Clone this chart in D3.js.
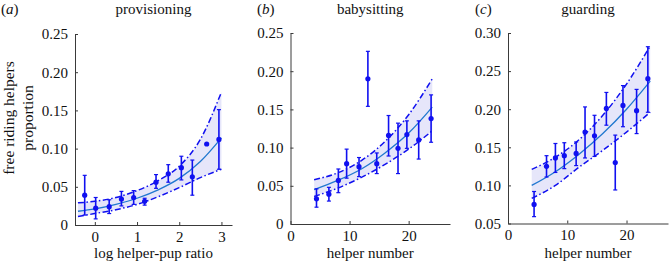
<!DOCTYPE html>
<html>
<head>
<meta charset="utf-8">
<script src="https://cdn.jsdelivr.net/npm/d3@7"></script>
<style>
  body { margin: 0; background: #ffffff; }
  text { font-family: 'Liberation Serif', 'DejaVu Serif', serif; fill: #111111; }
</style>
</head>
<body>
<svg id="chart" width="669" height="266"></svg>
<script>
// panel (a) provisioning: points with error bars
const provX = [-0.24, 0.02, 0.34, 0.63, 0.92, 1.18, 1.45, 1.74, 2.05, 2.31, 2.65, 2.94]
const provY = [0.039, 0.022, 0.024, 0.034, 0.036, 0.031, 0.056, 0.067, 0.075, 0.063, 0.106, 0.112]
const provLo = [0.013, 0.008, 0.015, 0.025, 0.027, 0.026, 0.048, 0.056, 0.059, 0.039, null, 0.073]
const provHi = [0.065, 0.036, 0.033, 0.044, 0.045, 0.035, 0.066, 0.079, 0.090, 0.085, null, 0.151]
// panel (a) fitted curve and confidence band
const provFitX = [-0.4, 0, 0.5, 1, 1.5, 2, 2.5, 3]
const provFit = [0.018, 0.021, 0.027, 0.035, 0.046, 0.061, 0.083, 0.114]
const provFitLo = [0.011, 0.015, 0.020, 0.027, 0.037, 0.049, 0.062, 0.073]
const provFitHi = [0.029, 0.031, 0.036, 0.045, 0.058, 0.077, 0.112, 0.174]

// panel (b) babysitting
const babyX = [4.4, 6.5, 8.1, 9.5, 11.6, 13.1, 14.6, 16.6, 18.2, 19.7, 21.7, 23.8]
const babyY = [0.033, 0.039, 0.057, 0.079, 0.075, 0.190, 0.079, 0.116, 0.099, 0.117, 0.110, 0.138]
const babyLo = [0.022, 0.030, 0.041, 0.060, 0.062, 0.154, 0.066, 0.089, 0.066, 0.099, 0.085, 0.107]
const babyHi = [0.046, 0.048, 0.072, 0.098, 0.087, 0.226, 0.093, 0.142, 0.132, 0.135, 0.135, 0.169]
const babyFitX = [4, 8, 12, 16, 20, 24]
const babyFit = [0.045, 0.057, 0.072, 0.093, 0.119, 0.153]
const babyFitLo = [0.036, 0.047, 0.061, 0.078, 0.098, 0.122]
const babyFitHi = [0.058, 0.067, 0.083, 0.108, 0.143, 0.190]

// panel (c) guarding
const guardX = [4.4, 6.5, 8.0, 9.5, 11.5, 13.0, 14.6, 16.6, 18.1, 19.4, 21.7, 23.6]
const guardY = [0.075, 0.125, 0.136, 0.139, 0.142, 0.170, 0.165, 0.201, 0.130, 0.205, 0.198, 0.240]
const guardLo = [0.059, 0.111, 0.117, 0.122, 0.126, 0.136, 0.138, 0.179, 0.094, 0.177, 0.168, 0.196]
const guardHi = [0.092, 0.139, 0.155, 0.156, 0.157, 0.203, 0.192, 0.222, 0.166, 0.231, 0.226, 0.282]
const guardFitX = [4, 8, 12, 16, 20, 24]
const guardFit = [0.100, 0.118, 0.141, 0.168, 0.200, 0.237]
const guardFitLo = [0.083, 0.100, 0.124, 0.146, 0.170, 0.196]
const guardFitHi = [0.121, 0.137, 0.160, 0.192, 0.233, 0.283]

// tick labels
const provXTicks = [0, 1, 2, 3]
const helperXTicks = [0, 10, 20]
const provYTicks = [0, 0.05, 0.10, 0.15, 0.20, 0.25]
const guardYTicks = [0.05, 0.10, 0.15, 0.20, 0.25, 0.30]

const pointColor = '#1010f0'
const fitColor = '#2078d0'
const bandColor = '#e6e6fa'
const axisColor = '#3a3a3a'

var svg = d3.select('#chart')

/**
 * Draws one panel of the figure
 *
 * @param {object} p panel settings and data
 */
function drawPanel (p) {
  var g = svg.append('g')
  var x = d3.scaleLinear().domain(p.xDomain).range([p.left, p.right])
  var y = d3.scaleLinear().domain(p.yDomain).range([p.bottom, p.top])

  var fit = p.fitX.map((v, i) => ({ x: v, m: p.fit[i], lo: p.fitLo[i], hi: p.fitHi[i] }))

  // confidence band
  g.append('path')
    .datum(fit)
    .attr('d', d3.area().x(d => x(d.x)).y0(d => y(d.lo)).y1(d => y(d.hi)).curve(d3.curveMonotoneX))
    .attr('fill', bandColor)

  // band edges, dash-dot
  ;['lo', 'hi'].forEach(k => {
    g.append('path')
      .datum(fit)
      .attr('d', d3.line().x(d => x(d.x)).y(d => y(d[k])).curve(d3.curveMonotoneX))
      .attr('fill', 'none')
      .attr('stroke', pointColor)
      .attr('stroke-width', 1.5)
      .attr('stroke-dasharray', '6,2.5,1.5,2.5')
  })

  // fitted line
  g.append('path')
    .datum(fit)
    .attr('d', d3.line().x(d => x(d.x)).y(d => y(d.m)).curve(d3.curveMonotoneX))
    .attr('fill', 'none')
    .attr('stroke', fitColor)
    .attr('stroke-width', 1.3)

  var pts = p.px.map((v, i) => ({ x: v, y: p.py[i], lo: p.plo[i], hi: p.phi[i] }))
  var bars = pts.filter(d => d.lo !== null)

  // error bars
  g.selectAll('.eb')
    .data(bars).enter()
    .append('line')
    .attr('x1', d => x(d.x)).attr('x2', d => x(d.x))
    .attr('y1', d => y(d.lo)).attr('y2', d => y(d.hi))
    .attr('stroke', pointColor)
    .attr('stroke-width', 1.6)
  ;['lo', 'hi'].forEach(k => {
    g.selectAll('.cap-' + k)
      .data(bars).enter()
      .append('line')
      .attr('x1', d => x(d.x) - 2).attr('x2', d => x(d.x) + 2)
      .attr('y1', d => y(d[k])).attr('y2', d => y(d[k]))
      .attr('stroke', pointColor)
      .attr('stroke-width', 1.2)
  })

  g.selectAll('.dot')
    .data(pts).enter()
    .append('circle')
    .attr('cx', d => x(d.x))
    .attr('cy', d => y(d.y))
    .attr('r', 2.6)
    .attr('fill', pointColor)

  // axes, ticks inward like matlab
  var xAxis = g.append('g')
    .attr('transform', 'translate(0,' + p.bottom + ')')
    .call(d3.axisBottom(x).tickValues(p.xTicks).tickSizeInner(-3).tickSizeOuter(0).tickPadding(6).tickFormat(d3.format('d')))
  var yAxis = g.append('g')
    .attr('transform', 'translate(' + p.left + ',0)')
    .call(d3.axisLeft(y).tickValues(p.yTicks).tickSizeInner(-3).tickSizeOuter(0).tickPadding(7)
      .tickFormat(d => d === 0 ? '0' : d3.format('.2f')(d)))
  ;[xAxis, yAxis].forEach(a => {
    a.select('.domain').attr('stroke', axisColor).attr('stroke-width', 1)
    a.selectAll('.tick line').attr('stroke', axisColor)
    a.selectAll('text').attr('font-size', 15).attr('font-family', null).attr('fill', '#111111')
  })

  // titles
  g.append('text')
    .attr('x', (p.left + p.right) / 2)
    .attr('y', 14)
    .attr('text-anchor', 'middle')
    .attr('font-size', 15)
    .text(p.title)
  var tag = g.append('text')
    .attr('x', p.tagX)
    .attr('y', 14)
    .attr('font-size', 15)
  tag.append('tspan').text('(')
  tag.append('tspan').attr('font-style', 'italic').text(p.tag)
  tag.append('tspan').text(')')

  g.append('text')
    .attr('x', (p.left + p.right) / 2)
    .attr('y', 258)
    .attr('text-anchor', 'middle')
    .attr('font-size', 15)
    .text(p.xLabel)
}

drawPanel({
  left: 75, right: 232, top: 34, bottom: 225,
  xDomain: [-0.47, 3.25], yDomain: [0, 0.25],
  px: provX, py: provY, plo: provLo, phi: provHi,
  fitX: provFitX, fit: provFit, fitLo: provFitLo, fitHi: provFitHi,
  xTicks: provXTicks, yTicks: provYTicks,
  title: 'provisioning', tag: 'a', tagX: 1,
  xLabel: 'log helper-pup ratio'
})
drawPanel({
  left: 290.5, right: 450, top: 33, bottom: 224,
  xDomain: [0, 27], yDomain: [0, 0.25],
  px: babyX, py: babyY, plo: babyLo, phi: babyHi,
  fitX: babyFitX, fit: babyFit, fitLo: babyFitLo, fitHi: babyFitHi,
  xTicks: helperXTicks, yTicks: provYTicks,
  title: 'babysitting', tag: 'b', tagX: 257,
  xLabel: 'helper number'
})
drawPanel({
  left: 508, right: 668, top: 33, bottom: 223.5,
  xDomain: [0, 27], yDomain: [0.05, 0.30],
  px: guardX, py: guardY, plo: guardLo, phi: guardHi,
  fitX: guardFitX, fit: guardFit, fitLo: guardFitLo, fitHi: guardFitHi,
  xTicks: helperXTicks, yTicks: guardYTicks,
  title: 'guarding', tag: 'c', tagX: 475,
  xLabel: 'helper number'
})

// shared y label
var yl = svg.append('text')
  .attr('transform', 'translate(14,118) rotate(-90)')
  .attr('text-anchor', 'middle')
  .attr('font-size', 15.5)
yl.append('tspan').attr('x', 0).attr('dy', 0).text('free riding helpers')
yl.append('tspan').attr('x', 0).attr('dy', 19).text('proportion')
</script>
</body>
</html>
